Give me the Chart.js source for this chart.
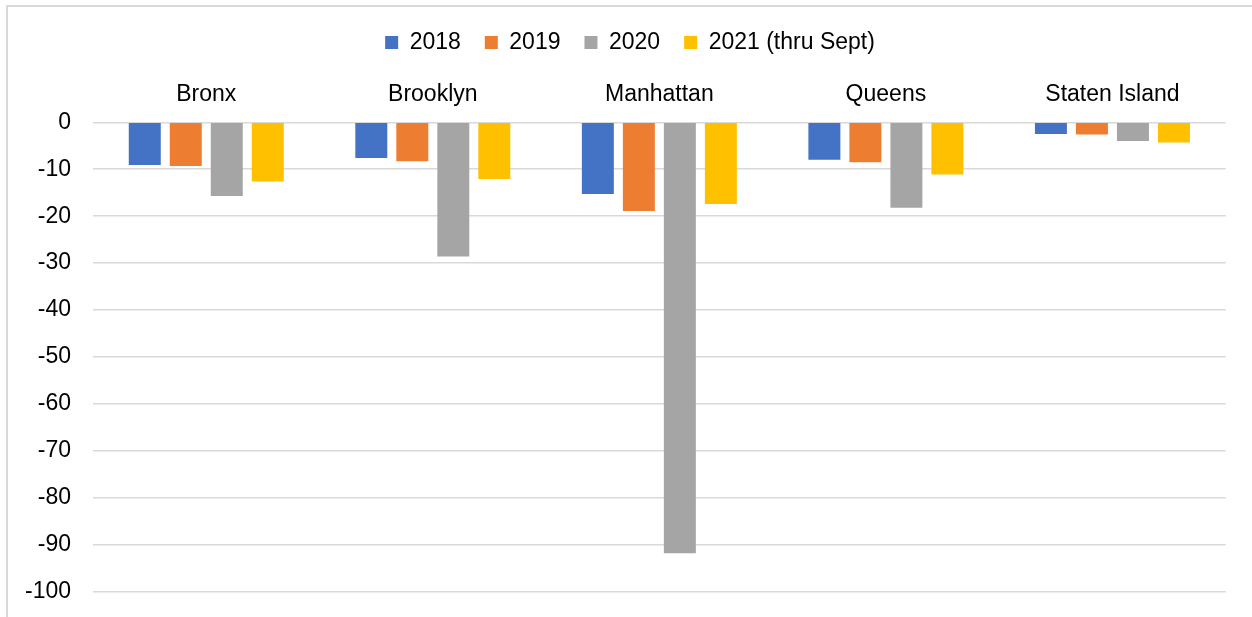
<!DOCTYPE html>
<html>
<head>
<meta charset="utf-8">
<script src="https://cdn.jsdelivr.net/npm/chart.js@4/dist/chart.umd.min.js"></script>
<style>
  html, body { margin: 0; padding: 0; background: #fff; overflow: hidden; width: 1252px; height: 617px; }
  #wrap { position: absolute; left: 6px; top: 5px; width: 1246px; height: 612px;
          border-left: 2px solid #d9d9d9; border-top: 2px solid #d9d9d9; }
  #box { position: absolute; left: 0; top: 0; width: 1244px; height: 610px; }
</style>
</head>
<body>
<div id="wrap"><div id="box"><canvas id="c"></canvas></div></div>
<script>
const categories = ['Bronx', 'Brooklyn', 'Manhattan', 'Queens', 'Staten Island'];
const seriesNames = ['2018', '2019', '2020', '2021 (thru Sept)'];
const s2018 = [-9.1, -7.6, -15.3, -8.0, -2.5];
const s2019 = [-9.3, -8.3, -18.9, -8.5, -2.6];
const s2020 = [-15.7, -28.6, -91.8, -18.2, -4.0];
const s2021 = [-12.6, -12.1, -17.4, -11.1, -4.3];
const colors = ['#4472C4', '#ED7D31', '#A5A5A5', '#FFC000'];
const yMin = -100, yMax = 0, yStep = 10;

const FONT = "'Liberation Sans', Arial, sans-serif";
const FS = 23;
const seriesData = [s2018, s2019, s2020, s2021];

new Chart(document.getElementById('c'), {
  type: 'bar',
  data: {
    labels: categories,
    datasets: seriesData.map((d, i) => ({
      label: seriesNames[i],
      data: d,
      backgroundColor: colors[i],
      borderWidth: 0,
      categoryPercentage: 0.724,
      barPercentage: 0.78,
      yAxisID: 'y'
    }))
  },
  options: {
    responsive: true,
    maintainAspectRatio: false,
    animation: false,
    layout: { padding: { top: 0, left: 0, right: 0, bottom: 25.3 } },
    plugins: {
      legend: {
        position: 'top',
        labels: {
          boxWidth: 13, boxHeight: 13, padding: 24,
          color: '#000',
          font: { family: FONT, size: FS }
        }
      },
      tooltip: { enabled: false }
    },
    scales: {
      x: {
        position: 'top',
        grid: { display: false, drawTicks: false },
        border: { display: false },
        ticks: { color: '#000', font: { family: FONT, size: FS }, padding: 14, maxRotation: 0 },
        afterFit: s => { s.height = 58.3; }
      },
      y: {
        position: 'left',
        min: yMin, max: yMax,
        grid: { color: '#d9d9d9', lineWidth: 1.6, drawTicks: false },
        border: { display: false },
        ticks: { stepSize: yStep, color: '#000', font: { family: FONT, size: FS }, padding: 22 },
        afterFit: s => { s.width = 85; s.paddingTop = 0; s.paddingBottom = 0; }
      },
      y2: {
        position: 'right',
        display: true,
        grid: { display: false, drawTicks: false },
        border: { display: false },
        ticks: { display: false },
        afterFit: s => { s.width = 26.3; s.paddingTop = 0; s.paddingBottom = 0; }
      }
    }
  }
});
</script>
</body>
</html>
